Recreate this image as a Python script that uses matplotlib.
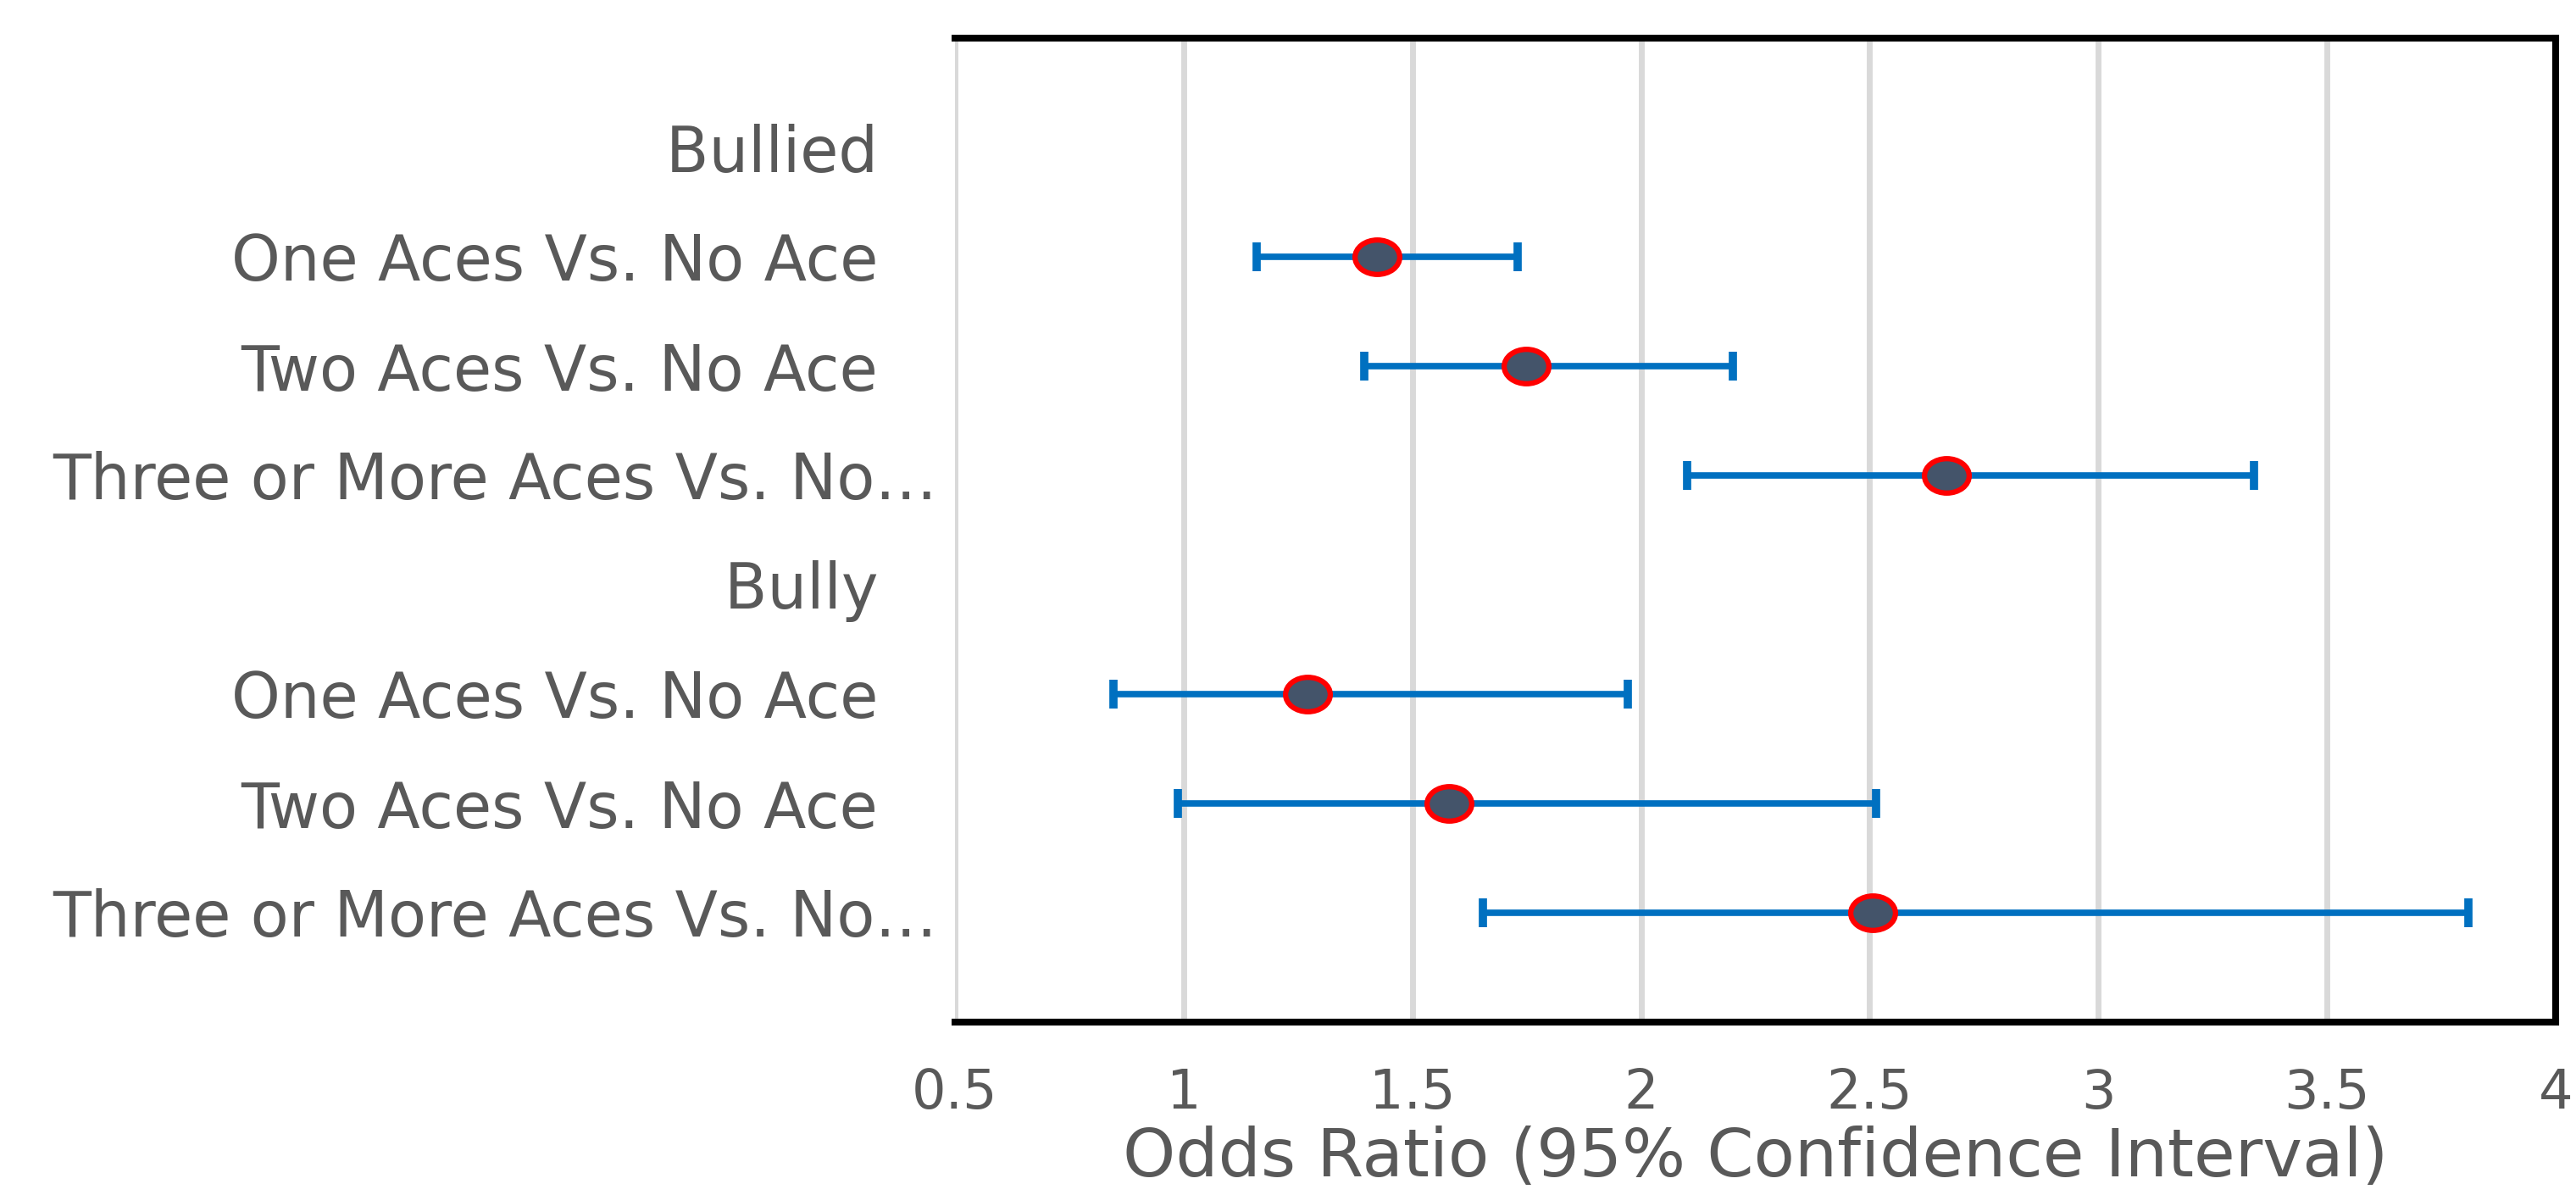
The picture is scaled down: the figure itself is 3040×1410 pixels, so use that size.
import numpy as np
import matplotlib
matplotlib.use("Agg")
import matplotlib.pyplot as plt
from matplotlib.path import Path
from matplotlib.transforms import Affine2D

# --- data ---
labels = ["Bullied   ", "One Aces Vs. No Ace   ", "Two Aces Vs. No Ace   ",
          "Three or More Aces Vs. No…",
          "Bully   ", "One Aces Vs. No Ace   ", "Two Aces Vs. No Ace   ",
          "Three or More Aces Vs. No…"]
odds = [np.nan, 1.423, 1.749, 2.668, np.nan, 1.271, 1.580, 2.506]
ci_low = [np.nan, 1.160, 1.395, 2.101, np.nan, 0.847, 0.987, 1.655]
ci_high = [np.nan, 1.730, 2.201, 3.340, np.nan, 1.971, 2.514, 3.810]
xticks = [0.5, 1, 1.5, 2, 2.5, 3, 3.5, 4]
xtick_labels = ["0.5", "1", "1.5", "2", "2.5", "3", "3.5", "4"]

plt.rcParams["font.family"] = ["DejaVu Sans"]
text_col = "#595959"

odds = np.array(odds)
lo = odds - np.array(ci_low)
hi = np.array(ci_high) - odds
y = np.arange(len(labels))

fig = plt.figure(figsize=(30.4, 14.1), dpi=100)
ax = fig.add_axes([1127 / 3040, 1 - 1206 / 1410, (3016 - 1127) / 3040, (1206 - 45) / 1410])

ax.errorbar(odds, y, xerr=[lo, hi], fmt="none", ecolor="#0070C0",
            elinewidth=5.5, capsize=12, capthick=7, zorder=3)

# slightly wide ellipse marker, like the stretched original
ell = Affine2D().scale(1.3, 1.0).transform_path(Path.unit_circle())
ax.plot(odds, y, linestyle="none", marker=ell, markersize=38,
        markerfacecolor="#44546A", markeredgecolor="red", markeredgewidth=4.5, zorder=4)

ax.set_xlim(0.5, 4)
ax.set_ylim(8, -1)
ax.set_xticks(xticks)
ax.set_xticklabels(xtick_labels)
ax.set_yticks(y)
ax.set_yticklabels(labels)

ax.grid(axis="x", color="#d9d9d9", linewidth=5, zorder=0)
ax.set_axisbelow(True)
ax.tick_params(axis="both", length=0, colors=text_col)
ax.tick_params(axis="x", labelsize=46, pad=38)
ax.tick_params(axis="y", labelsize=53, pad=15)

for side in ["top", "bottom", "right"]:
    ax.spines[side].set_color("black")
    ax.spines[side].set_linewidth(5.8)
ax.spines["left"].set_visible(False)

ax.set_xlabel("Odds Ratio (95% Confidence Interval)", fontsize=57, color=text_col, labelpad=5)

fig.savefig("out.png", dpi=100)
plt.close(fig)
